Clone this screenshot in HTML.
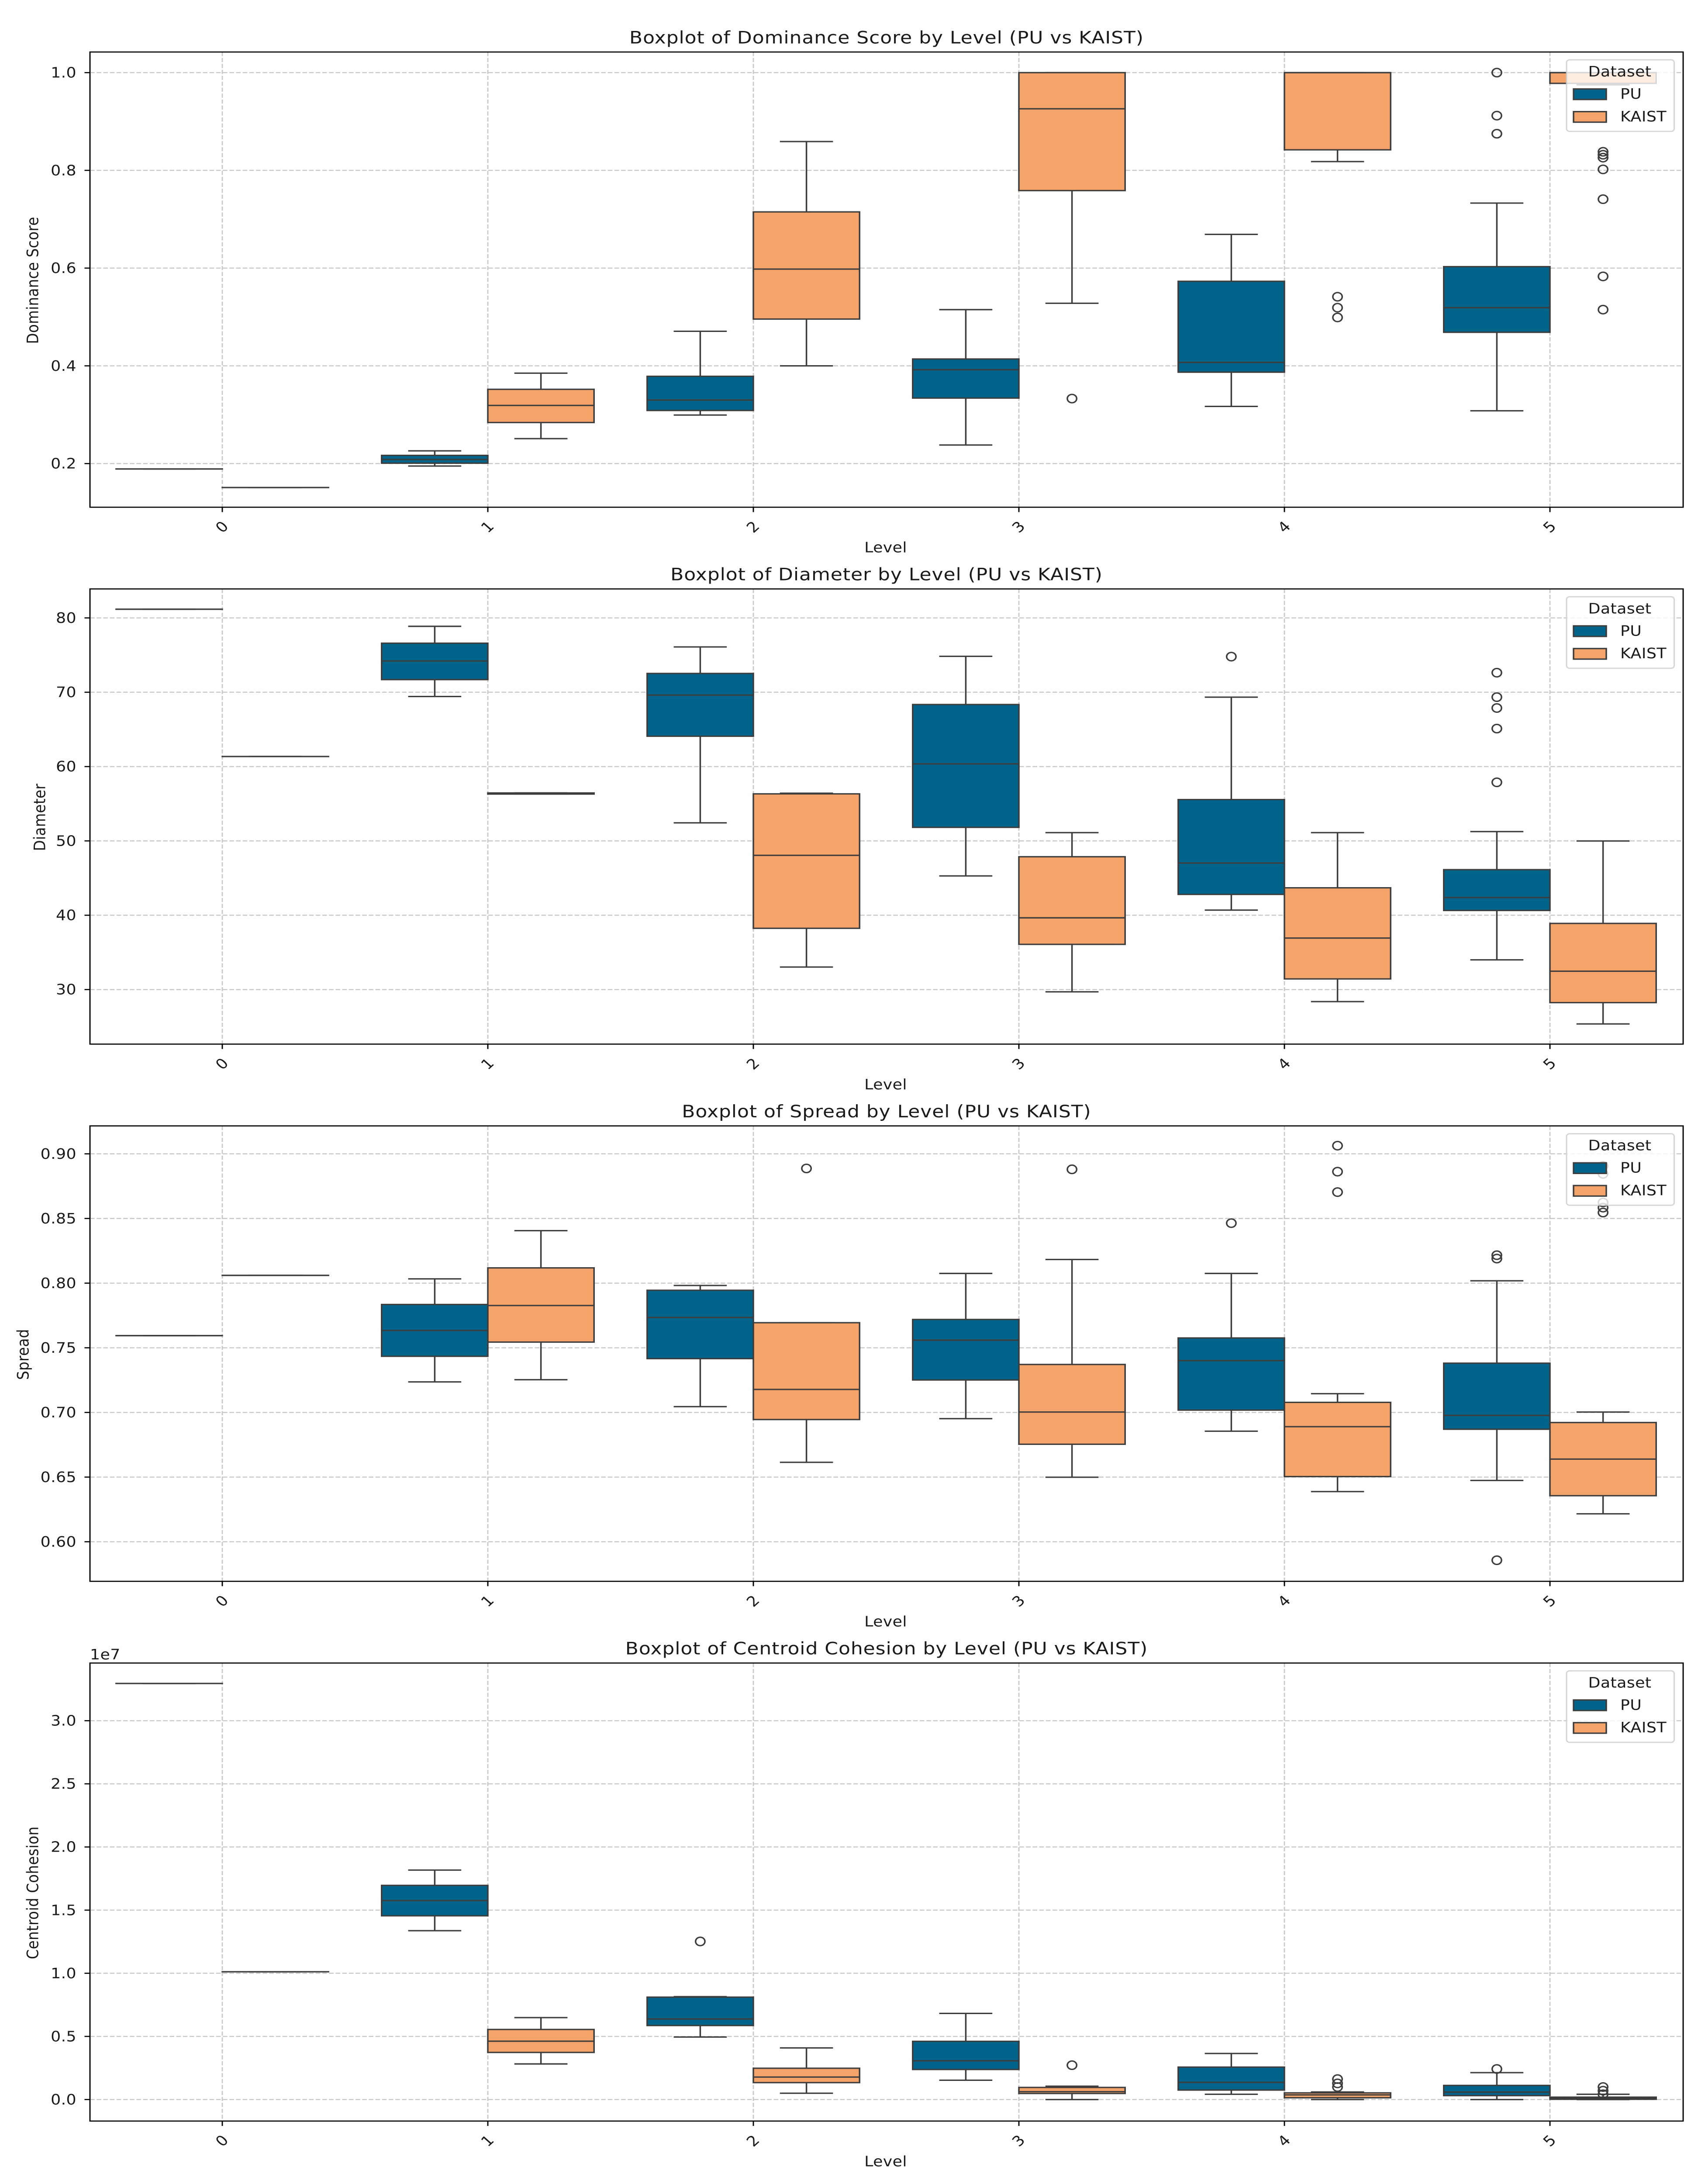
<!DOCTYPE html>
<html lang="en">
<head>
<meta charset="utf-8">
<meta name="viewport" content="width=3888">
<title>Boxplots by Level (PU vs KAIST)</title>
<style>
html,body{margin:0;padding:0;background:#fff;width:100%;height:100%;overflow:hidden;}
svg{display:block;position:fixed;left:0;top:0;width:100vw;height:100vh;overflow:hidden;}
script{display:none;}
text{font-family:"DejaVu Sans","Liberation Sans",sans-serif;fill:#1a1a1a;letter-spacing:0.4px;}
.title{letter-spacing:0.95px;}
</style>
</head>
<body>
<svg id="chart" xmlns="http://www.w3.org/2000/svg" viewBox="0 0 3888 5586" preserveAspectRatio="none"></svg>
<script>
// ---- Shared categories ----
const levels = ['0','1','2','3','4','5'];
const seriesNames = ['PU','KAIST'];
const seriesColors = ['#02648a','#f4a46a'];

// ---- Panel tick labels ----
const dominanceTicks = ['0.2','0.4','0.6','0.8','1.0'];
const diameterTicks = ['30','40','50','60','70','80'];
const spreadTicks = ['0.60','0.65','0.70','0.75','0.80','0.85','0.90'];
const cohesionTicks = ['0.0','0.5','1.0','1.5','2.0','2.5','3.0'];

// ---- Axis limits ----
const dominanceLimits = [0.1107,1.0422];
const diameterLimits = [22.66,83.9];
const spreadLimits = [0.5694,0.9216];
const cohesionLimits = [-0.1703,3.4567];

// ---- Box stats per level: [lower whisker, q1, median, q3, upper whisker] ----
const dominancePU = [
  [0.189,0.189,0.189,0.189,0.189],
  [0.195,0.2008,0.2084,0.2168,0.226],
  [0.2993,0.3086,0.33,0.3786,0.4707],
  [0.238,0.334,0.392,0.414,0.515],
  [0.317,0.387,0.407,0.573,0.669],
  [0.308,0.4686,0.519,0.603,0.733]
];
const dominanceKAIST = [
  [0.151,0.151,0.151,0.151,0.151],
  [0.251,0.284,0.319,0.352,0.385],
  [0.40,0.4957,0.598,0.715,0.859],
  [0.528,0.7586,0.926,1.0,1.0],
  [0.818,0.842,1.0,1.0,1.0],
  [0.975,0.978,1.0,1.0,1.0]
];
const dominancePUFliers = [[],[],[],[],[],[1.0,0.912,0.875]];
const dominanceKAISTFliers = [[],[],[],[0.333],[0.5414,0.519,0.499],[0.838,0.832,0.826,0.802,0.741,0.583,0.515]];

const diameterPU = [
  [81.17,81.17,81.17,81.17,81.17],
  [69.43,71.7,74.2,76.6,78.87],
  [52.43,64.08,69.62,72.53,76.1],
  [45.29,51.82,60.37,68.35,74.83],
  [40.69,42.8,47.03,55.56,69.34],
  [34.0,40.64,42.38,46.13,51.25]
];
const diameterKAIST = [
  [61.35,61.35,61.35,61.35,61.35],
  [56.3,56.3,56.38,56.45,56.45],
  [33.03,38.24,48.06,56.33,56.42],
  [29.69,36.08,39.65,47.87,51.11],
  [28.38,31.43,36.93,43.69,51.11],
  [25.37,28.24,32.47,38.9,49.99]
];
const diameterPUFliers = [[],[],[],[],[74.79],[72.63,69.34,67.88,65.11,57.88]];
const diameterKAISTFliers = [[],[],[],[],[],[]];

const spreadPU = [
  [0.7594,0.7594,0.7594,0.7594,0.7594],
  [0.7236,0.7434,0.7634,0.7835,0.8033],
  [0.7045,0.7416,0.7734,0.7945,0.7982],
  [0.6952,0.7251,0.7559,0.7719,0.8075],
  [0.6855,0.7018,0.7401,0.7576,0.8075],
  [0.6474,0.687,0.6977,0.7381,0.8018]
];
const spreadKAIST = [
  [0.806,0.806,0.806,0.806,0.806],
  [0.7253,0.7544,0.7827,0.8118,0.8406],
  [0.6614,0.6945,0.7178,0.7694,0.7694],
  [0.6499,0.6754,0.7003,0.7371,0.8183],
  [0.6388,0.6504,0.689,0.7078,0.7145],
  [0.6216,0.6356,0.6639,0.6922,0.7003]
];
const spreadPUFliers = [[],[],[],[],[0.8464],[0.8216,0.819,0.5857]];
const spreadKAISTFliers = [[],[],[0.8887],[0.888],[0.9063,0.8862,0.8704],[0.8907,0.8845,0.8624,0.8584,0.8546]];

const cohesionPU = [
  [3.295,3.295,3.295,3.295,3.295],
  [1.337,1.455,1.576,1.696,1.817],
  [0.495,0.586,0.638,0.811,0.815],
  [0.153,0.238,0.307,0.461,0.682],
  [0.042,0.075,0.136,0.257,0.365],
  [0.0,0.031,0.059,0.112,0.213]
];
const cohesionKAIST = [
  [1.012,1.012,1.012,1.012,1.012],
  [0.282,0.373,0.462,0.555,0.649],
  [0.05,0.134,0.178,0.248,0.409],
  [0.0,0.048,0.062,0.096,0.106],
  [0.0,0.014,0.037,0.053,0.06],
  [0.0,0.002,0.01,0.019,0.042]
];
const cohesionPUFliers = [[],[],[1.252],[],[],[0.242]];
const cohesionKAISTFliers = [[],[],[],[0.272],[0.162,0.128,0.099],[0.099,0.07,0.042]];

// ---- Panel frames (layout only) ----
const NS = 'http://www.w3.org/2000/svg';
const svg = document.getElementById('chart');
const LEFT = 206, RIGHT = 3854, X0 = 509, XSTEP = 608;
const INK = '#3d3d3d';
const GRID = '#c9c9c9';
const FONT = 36.3;

function xScale(i){ return X0 + i * XSTEP; }
function makeY(limits, top, bottom){
  return function(v){ return bottom - (v - limits[0]) / (limits[1] - limits[0]) * (bottom - top); };
}
function make(tag, parent, attrs, content){
  const node = document.createElementNS(NS, tag);
  for (const k in attrs) node.setAttribute(k, attrs[k]);
  if (content !== undefined) node.textContent = content;
  parent.appendChild(node);
  return node;
}

function drawBox(group, cx, stat, fliers, color, y, label){
  const [lo,q1,med,q3,hi] = stat;
  const halfBox = XSTEP * 0.2, halfCap = XSTEP * 0.1;
  const box = make('g', group, {});
  
  
  const upper = make('line', box, {x1:cx,x2:cx,y1:y(q3),y2:y(hi),stroke:INK,'stroke-width':3.5});
  
  
  const lower = make('line', box, {x1:cx,x2:cx,y1:y(q1),y2:y(lo),stroke:INK,'stroke-width':3.5});
  
  
  const capHi = make('line', box, {x1:cx-halfCap,x2:cx+halfCap,y1:y(hi),y2:y(hi),stroke:INK,'stroke-width':3.5});
  
  
  const capLo = make('line', box, {x1:cx-halfCap,x2:cx+halfCap,y1:y(lo),y2:y(lo),stroke:INK,'stroke-width':3.5});
  
  
  const rect = make('rect', box, {x:cx-halfBox,y:y(q3),width:halfBox*2,height:Math.max(y(q1)-y(q3),0.01),fill:color,stroke:INK,'stroke-width':3.5});
  
  
  const median = make('line', box, {x1:cx-halfBox,x2:cx+halfBox,y1:y(med),y2:y(med),stroke:INK,'stroke-width':3.5});
  
  
  fliers.forEach(function(v){
    const dot = make('circle', box, {cx:cx,cy:y(v),r:10.7,fill:'none',stroke:INK,'stroke-width':3.5});
    
    
  });
}

function drawPanel(cfg){
  const top = cfg.top, bottom = cfg.bottom;
  const y = makeY(cfg.limits, top, bottom);
  const g = make('g', svg, {});
  
  

  const bg = make('rect', g, {x:LEFT,y:top,width:RIGHT-LEFT,height:bottom-top,fill:'#fff'});
  
  

  cfg.ticks.forEach(function(t){
    const py = y(parseFloat(t));
    const gl = make('line', g, {x1:LEFT,x2:RIGHT,y1:py,y2:py,stroke:GRID,'stroke-width':2.8,'stroke-dasharray':'10.6 4.6'});
    
    
  });
  levels.forEach(function(l,i){
    const px = xScale(i);
    const gl = make('line', g, {x1:px,x2:px,y1:top,y2:bottom,stroke:GRID,'stroke-width':2.8,'stroke-dasharray':'10.6 4.6'});
    
    
  });

  levels.forEach(function(l,i){
    drawBox(g, xScale(i) - XSTEP*0.2, cfg.pu[i], cfg.puFliers[i], seriesColors[0], y, cfg.key + '-pu-level-' + l);
    drawBox(g, xScale(i) + XSTEP*0.2, cfg.kaist[i], cfg.kaistFliers[i], seriesColors[1], y, cfg.key + '-kaist-level-' + l);
  });

  const frame = make('rect', g, {x:LEFT,y:top,width:RIGHT-LEFT,height:bottom-top,fill:'none',stroke:'#000','stroke-width':2.9});
  
  

  cfg.ticks.forEach(function(t){
    const py = y(parseFloat(t));
    const tick = make('line', g, {x1:LEFT-12.5,x2:LEFT,y1:py,y2:py,stroke:'#000','stroke-width':2.9});
    
    
    const lab = make('text', g, {x:LEFT-31,y:py+1,'text-anchor':'end','dominant-baseline':'central','font-size':FONT}, t);
    
    
  });
  levels.forEach(function(l,i){
    const px = xScale(i);
    const tick = make('line', g, {x1:px,x2:px,y1:bottom,y2:bottom+12.5,stroke:'#000','stroke-width':2.9});
    
    
    const lab = make('text', g, {x:px,y:bottom+51,'text-anchor':'middle','dominant-baseline':'central','font-size':FONT,transform:'rotate(-45 '+px+' '+(bottom+51)+')'}, l);
    
    
  });

  const title = make('text', g, {x:2030,y:top-22,'text-anchor':'middle','font-size':44,'class':'title'}, cfg.title);
  
  

  const xTitle = make('text', g, {x:2028,y:bottom+104,'text-anchor':'middle','dominant-baseline':'central','font-size':FONT}, 'Level');
  
  

  const ymid = (top+bottom)/2 + 2;
  const yTitle = make('text', g, {x:cfg.yLabelX,y:ymid,'text-anchor':'middle','dominant-baseline':'central','font-size':FONT,transform:'rotate(-90 '+cfg.yLabelX+' '+ymid+')'}, cfg.yLabel);
  
  

  if (cfg.offsetText){
    const off = make('text', g, {x:LEFT,y:top-9,'font-size':FONT}, cfg.offsetText);
    
    
  }

  const lg = make('g', g, {});
  
  
  const lx = 3587, ly = top + 20;
  const lbox = make('rect', lg, {x:lx,y:ly,width:246.5,height:183,rx:7,ry:7,fill:'#fff','fill-opacity':0.8,stroke:'#cccccc','stroke-opacity':0.8,'stroke-width':3.2});
  
  
  const lt = make('text', lg, {x:3709,y:ly+31,'text-anchor':'middle','dominant-baseline':'central','font-size':FONT}, 'Dataset');
  
  
  seriesNames.forEach(function(name,i){
    const rowY = ly + 88 + i*58;
    const sw = make('rect', lg, {x:3603,y:rowY-13.5,width:75,height:27,fill:seriesColors[i],stroke:INK,'stroke-width':3.5});
    
    
    const tx = make('text', lg, {x:3710,y:rowY,'dominant-baseline':'central','font-size':FONT}, name);
    
    
  });
}

drawPanel({key:'dominance',top:133,bottom:1297.3,limits:dominanceLimits,ticks:dominanceTicks,pu:dominancePU,kaist:dominanceKAIST,puFliers:dominancePUFliers,kaistFliers:dominanceKAISTFliers,title:'Boxplot of Dominance Score by Level (PU vs KAIST)',yLabel:'Dominance Score',yLabelX:76});
drawPanel({key:'diameter',top:1506.3,bottom:2670.5,limits:diameterLimits,ticks:diameterTicks,pu:diameterPU,kaist:diameterKAIST,puFliers:diameterPUFliers,kaistFliers:diameterKAISTFliers,title:'Boxplot of Diameter by Level (PU vs KAIST)',yLabel:'Diameter',yLabelX:92});
drawPanel({key:'spread',top:2879.7,bottom:4044.5,limits:spreadLimits,ticks:spreadTicks,pu:spreadPU,kaist:spreadKAIST,puFliers:spreadPUFliers,kaistFliers:spreadKAISTFliers,title:'Boxplot of Spread by Level (PU vs KAIST)',yLabel:'Spread',yLabelX:54});
drawPanel({key:'cohesion',top:4253.5,bottom:5425,limits:cohesionLimits,ticks:cohesionTicks,pu:cohesionPU,kaist:cohesionKAIST,puFliers:cohesionPUFliers,kaistFliers:cohesionKAISTFliers,title:'Boxplot of Centroid Cohesion by Level (PU vs KAIST)',yLabel:'Centroid Cohesion',yLabelX:76,offsetText:'1e7'});
</script>
</body>
</html>
